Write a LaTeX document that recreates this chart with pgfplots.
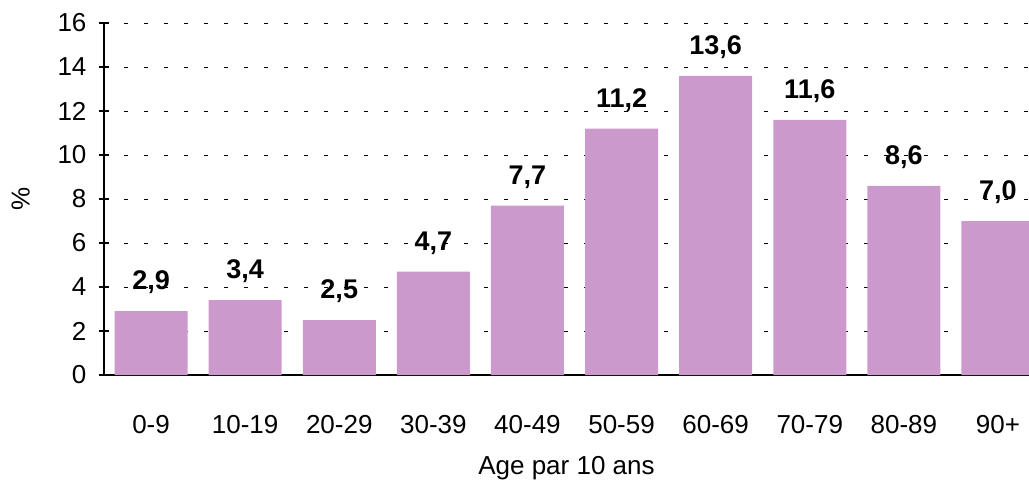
\documentclass[border=0pt]{standalone}
\usepackage{fontspec}
\setmainfont{Liberation Sans}
\usepackage{pgfplots}
\pgfplotsset{compat=1.18}
\definecolor{barc}{HTML}{CC99CC}
\begin{document}
\fontsize{13}{15}\selectfont%
\begin{tikzpicture}
\useasboundingbox (-52pt,-54pt) rectangle (462.5pt,187.5pt);
\begin{axis}[
  at={(0pt,0pt)}, anchor=south west,
  scale only axis,
  width=462.5pt, height=176pt,
  xmin=-0.5, xmax=9.33,
  ymin=0, ymax=16,
  ytick={0,2,...,16},
  xtick={0,...,9},
  xticklabels={0-9,10-19,20-29,30-39,40-49,50-59,60-69,70-79,80-89,90+},
  x tick style={draw=none},
  extra x ticks={-0.5,0.5,...,8.5},
  extra x tick labels={},
  extra x tick style={tick style={draw=black,line width=0.6pt}, major tick length=4pt, tick align=center, grid=none},
  axis x line*=bottom,
  axis y line*=left,
  axis line style={black, line width=0.6pt, -},
  y tick style={black, line width=0.6pt},
  major tick length=5.5pt,
  tick align=center,
  ymajorgrids,
  grid style={black, line width=0.5pt, dash pattern=on 2pt off 8pt},
  xticklabel style={yshift=-10pt},
  yticklabel style={xshift=-1.5pt},
  tick label style={font=\fontsize{13}{15}\selectfont},
  /pgf/number format/assume math mode=true,
  xlabel={Age par 10 ans},
  xlabel style={font=\fontsize{13}{15}\selectfont, at={(axis description cs:0.5,0)}, anchor=center, yshift=-46.5pt},
  ylabel={\%},
  ylabel style={font=\fontsize{13}{15}\selectfont, yshift=5pt},
  ybar, bar width=36.5pt,
  nodes near coords,
  nodes near coords style={font=\fontsize{13.5}{15}\selectfont\bfseries, yshift=4pt,
    /pgf/number format/.cd, fixed, fixed zerofill, precision=1, use comma},
  clip=true,
]
\addplot[fill=barc, draw=none] coordinates {
(0,2.9) (1,3.4) (2,2.5) (3,4.7) (4,7.7) (5,11.2) (6,13.6) (7,11.6) (8,8.6) (9,7.0)
};
\end{axis}
\end{tikzpicture}
\end{document}
